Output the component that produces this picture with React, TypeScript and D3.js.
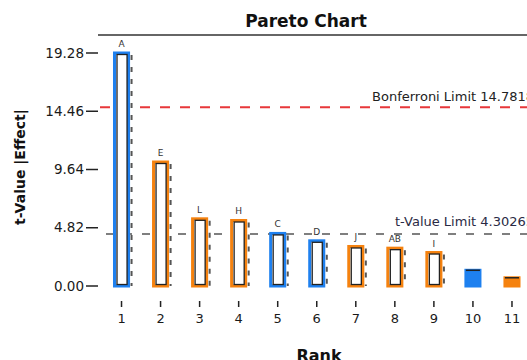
import React from "react";
import * as d3 from "d3";

// Standardized effects, sorted by magnitude
const ranks = [1, 2, 3, 4, 5, 6, 7, 8, 9, 10, 11];
const terms = ["A", "E", "L", "H", "C", "D", "J", "AB", "I", "", ""];
const tValues = [19.28, 10.26, 5.56, 5.42, 4.35, 3.74, 3.27, 3.13, 2.77, 1.3, 0.68];
const effectSigns = ["+", "-", "-", "-", "+", "+", "-", "-", "-", "+", "-"];
const yTicks = [0, 4.82, 9.64, 14.46, 19.28];
const tLimit = 4.30265;
const bonferroniLimit = 14.7818;

const W = 527;
const H = 360;
const FONT = "'DejaVu Sans', Verdana, sans-serif";
const POS = "#1e80ef";
const NEG = "#f5820f";

export default function App() {
  const x = d3
    .scaleBand<number>()
    .domain(ranks)
    .range([102, 531.5])
    .paddingInner(0.64)
    .paddingOuter(0.32);
  const y = d3.scaleLinear().domain([0, 19.28]).range([286, 53]);
  const bw = x.bandwidth();
  const plotRight = 536;

  return (
    <svg
      width={W}
      height={H}
      style={{ position: "fixed", left: 0, top: 0, background: "#fff" }}
      fontFamily={FONT}
    >
      {/* title */}
      <text x={306} y={27} textAnchor="middle" fontSize={17} fontWeight="bold" fill="#111">
        Pareto Chart
      </text>
      <line x1={98} x2={W} y1={35} y2={35} stroke="#333" strokeWidth={1.5} />

      {/* y axis */}
      {yTicks.map((t) => (
        <g key={t}>
          <line x1={86} x2={98} y1={y(t)} y2={y(t)} stroke="#222" strokeWidth={1.5} />
          <text
            x={84}
            y={y(t)}
            dy="0.35em"
            textAnchor="end"
            fontSize={13.5}
            fill="#1a1a1a"
          >
            {t.toFixed(2)}
          </text>
        </g>
      ))}
      <text
        transform={`translate(25,167) rotate(-90)`}
        textAnchor="middle"
        fontSize={14}
        fontWeight="bold"
        fill="#111"
      >
        t-Value |Effect|
      </text>

      {/* reference limits */}
      <line
        x1={100}
        x2={plotRight}
        y1={y(bonferroniLimit)}
        y2={y(bonferroniLimit)}
        stroke="#e8373a"
        strokeWidth={2}
        strokeDasharray="10,10"
      />
      <text x={plotRight - 2} y={y(bonferroniLimit) - 6} textAnchor="end" fontSize={13} fill="#222">
        Bonferroni Limit {bonferroniLimit}
      </text>
      <line
        x1={106}
        x2={plotRight}
        y1={y(tLimit)}
        y2={y(tLimit)}
        stroke="#555"
        strokeWidth={1.6}
        strokeDasharray="8,10"
      />
      <text x={plotRight - 2} y={y(tLimit) - 8} textAnchor="end" fontSize={13} fill="#2a2a44">
        t-Value Limit {tLimit}
      </text>

      {/* bars */}
      {ranks.map((r, i) => {
        const v = tValues[i];
        const color = effectSigns[i] === "+" ? POS : NEG;
        const x0 = x(r) as number;
        const y0 = y(v);
        const h = y(0) - y0;
        const hollow = terms[i] !== "";
        return (
          <g key={r}>
            <rect
              x={x0}
              y={y0}
              width={bw}
              height={h}
              fill={hollow ? "#fff" : color}
              stroke={color}
              strokeWidth={3}
            />
            {hollow ? (
              <>
                <rect
                  x={x0 + 2.5}
                  y={y0 + 1.5}
                  width={bw - 4}
                  height={h - 3}
                  fill="none"
                  stroke="#222"
                  strokeWidth={1.3}
                />
                <line
                  x1={x0 + bw + 3}
                  x2={x0 + bw + 3}
                  y1={y0 + 2}
                  y2={y(0)}
                  stroke="#555"
                  strokeWidth={2}
                  strokeDasharray="5,7"
                />
                <text
                  x={x0 + bw / 2}
                  y={y0 - 6}
                  textAnchor="middle"
                  fontSize={9}
                  fill="#333"
                >
                  {terms[i]}
                </text>
              </>
            ) : (
              <line x1={x0} x2={x0 + bw} y1={y0} y2={y0} stroke="#222" strokeWidth={1.5} />
            )}
          </g>
        );
      })}

      {/* x axis */}
      {ranks.map((r) => {
        const cx = (x(r) as number) + bw / 2;
        return (
          <g key={r}>
            <line x1={cx} x2={cx} y1={301} y2={307} stroke="#222" strokeWidth={1.5} />
            <text x={cx} y={323} textAnchor="middle" fontSize={13} fill="#1a1a1a">
              {r}
            </text>
          </g>
        );
      })}
      <text x={319} y={361} textAnchor="middle" fontSize={16} fontWeight="bold" fill="#111">
        Rank
      </text>
    </svg>
  );
}
